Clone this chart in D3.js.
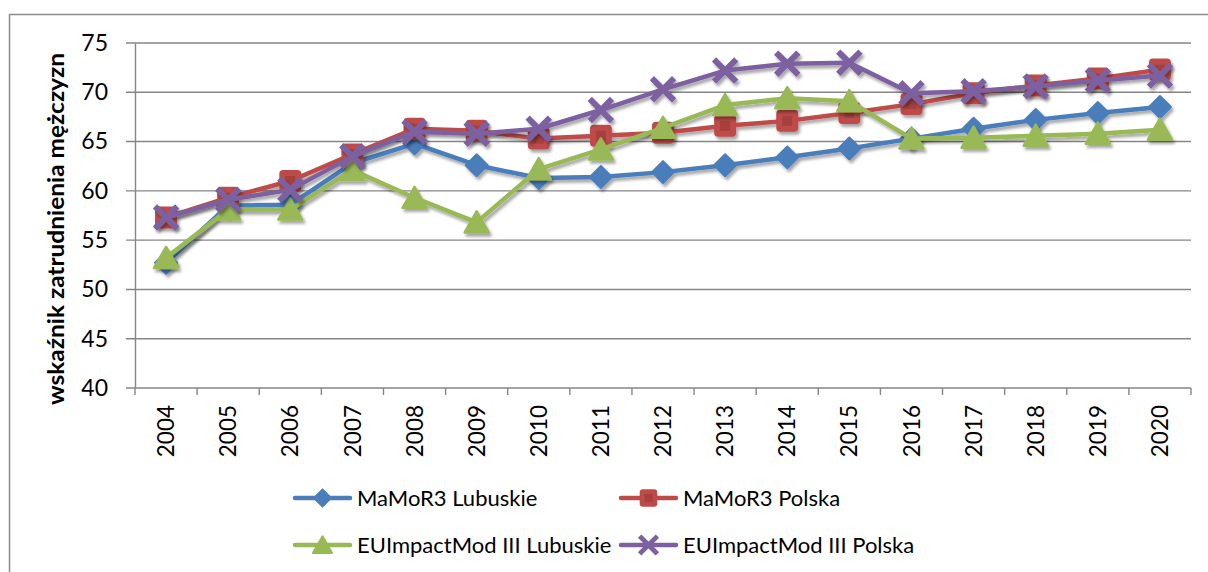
<!DOCTYPE html>
<html>
<head>
<meta charset="utf-8">
<script src="https://cdn.jsdelivr.net/npm/d3@7"></script>
<style>
  body { margin: 0; background: #fff; }
  text { font-family: Lato, "Open Sans", sans-serif; fill: #000; }
</style>
</head>
<body>
<div id="container"></div>
<script>
const WIDTH = 1208;
const HEIGHT = 572;

const years = ["2004", "2005", "2006", "2007", "2008", "2009", "2010", "2011", "2012",
  "2013", "2014", "2015", "2016", "2017", "2018", "2019", "2020"];
const yTicks = [40, 45, 50, 55, 60, 65, 70, 75];

const mamorLubuskie = [52.7, 58.5, 58.6, 62.8, 64.8, 62.6, 61.3, 61.4, 61.9, 62.6, 63.4, 64.3, 65.3, 66.3, 67.2, 67.9, 68.5];
const mamorPolska = [57.3, 59.3, 61.0, 63.7, 66.3, 66.1, 65.3, 65.6, 65.9, 66.6, 67.1, 67.9, 68.8, 69.9, 70.7, 71.4, 72.3];
const euLubuskie = [53.2, 58.1, 58.1, 62.1, 59.3, 56.8, 62.2, 64.2, 66.4, 68.7, 69.4, 69.1, 65.3, 65.4, 65.6, 65.8, 66.2];
const euPolska = [57.3, 59.1, 60.1, 63.5, 66.0, 65.8, 66.3, 68.2, 70.3, 72.2, 72.9, 73.0, 69.9, 70.1, 70.6, 71.2, 71.7];

const seriesNames = ["MaMoR3 Lubuskie", "MaMoR3 Polska", "EUImpactMod III Lubuskie", "EUImpactMod III Polska"];
const seriesValues = [mamorLubuskie, mamorPolska, euLubuskie, euPolska];
const seriesColors = ["#4a7ebb", "#be4b48", "#98b954", "#7d60a0"];
const seriesMarkers = ["diamond", "square", "triangle", "x"];

const svg = d3
  .select("div#container")
  .append("svg")
  .attr("width", WIDTH)
  .attr("height", HEIGHT);

const defs = svg.append("defs");
defs
  .append("filter")
  .attr("id", "shadow")
  .attr("x", "-10%").attr("y", "-10%")
  .attr("width", "120%").attr("height", "130%")
  .append("feDropShadow")
  .attr("dx", 2)
  .attr("dy", 3)
  .attr("stdDeviation", 1.6)
  .attr("flood-color", "#000")
  .attr("flood-opacity", 0.35);

// chart frame
svg
  .append("rect")
  .attr("x", 9.5)
  .attr("y", 14.5)
  .attr("width", 1220)
  .attr("height", 600)
  .attr("fill", "none")
  .attr("stroke", "#8c8c8c")
  .attr("stroke-width", 1.5);

const xScale = d3.scaleBand().domain(years).range([135, 1191]).padding(0);
const yScale = d3.scaleLinear().domain([40, 75]).range([388, 43]);
const px = (i) => xScale(years[i]) + xScale.bandwidth() / 2;

// gridlines
svg
  .append("g")
  .selectAll("line")
  .data(yTicks)
  .enter()
  .append("line")
  .attr("x1", 126)
  .attr("x2", 1191)
  .attr("y1", (d) => yScale(d))
  .attr("y2", (d) => yScale(d))
  .attr("stroke", "#868686")
  .attr("stroke-width", 1.4);

// y axis
const yAxis = d3.axisLeft(yScale).tickValues(yTicks).tickSize(0).tickPadding(0);
const gy = svg.append("g").attr("transform", "translate(135,0)").call(yAxis);
gy.select(".domain").attr("stroke", "#868686").attr("stroke-width", 1.4);
gy.selectAll(".tick text")
  .attr("x", -27)
  .attr("font-size", 23)
  .style("font-family", "Lato");

// x axis
const xAxis = d3.axisBottom(xScale).tickSize(0).tickPadding(0);
const gx = svg.append("g").attr("transform", "translate(0,388)").call(xAxis);
gx.select(".domain").remove();
gx.selectAll(".tick text")
  .attr("transform", "rotate(-90)")
  .attr("x", -17)
  .attr("y", 0)
  .attr("dy", "0.36em")
  .attr("text-anchor", "end")
  .attr("font-size", 22.5)
  .style("font-family", "Lato");

svg
  .append("g")
  .selectAll("line")
  .data(d3.range(years.length + 1))
  .enter()
  .append("line")
  .attr("x1", (i) => 135 + i * xScale.step())
  .attr("x2", (i) => 135 + i * xScale.step())
  .attr("y1", 388)
  .attr("y2", 395)
  .attr("stroke", "#868686")
  .attr("stroke-width", 1.4);

// y axis title
svg
  .append("text")
  .attr("transform", "translate(64,229) rotate(-90)")
  .attr("text-anchor", "middle")
  .attr("font-size", 23)
  .attr("font-weight", "bold")
  .attr("textLength", 352)
  .attr("lengthAdjust", "spacingAndGlyphs")
  .text("wskaźnik zatrudnienia mężczyzn");

function drawMarker(g, type, color) {
  if (type === "diamond") {
    g.append("path")
      .attr("d", "M0,-11L11,0L0,11L-11,0Z")
      .attr("fill", color)
      .attr("stroke", color)
      .attr("stroke-width", 2)
      .attr("stroke-linejoin", "round");
  } else if (type === "square") {
    g.append("rect")
      .attr("x", -10).attr("y", -10)
      .attr("width", 20).attr("height", 20)
      .attr("rx", 3)
      .attr("fill", color)
      .attr("stroke", color)
      .attr("stroke-width", 2);
    g.append("rect")
      .attr("x", -5).attr("y", -5)
      .attr("width", 10).attr("height", 10)
      .attr("fill", d3.color(color).darker(0.4));
  } else if (type === "triangle") {
    g.append("path")
      .attr("d", "M0,-11L12,10L-12,10Z")
      .attr("fill", color)
      .attr("stroke", color)
      .attr("stroke-width", 2.5)
      .attr("stroke-linejoin", "round");
  } else {
    g.append("path")
      .attr("d", "M-9,-9L9,9M-9,9L9,-9")
      .attr("stroke", color)
      .attr("stroke-width", 6)
      .attr("stroke-linecap", "square");
  }
}

const line = d3
  .line()
  .x((d, i) => px(i))
  .y((d) => yScale(d));

seriesValues.forEach((vals, s) => {
  const g = svg.append("g").attr("filter", "url(#shadow)");
  g.append("path")
    .attr("d", line(vals))
    .attr("fill", "none")
    .attr("stroke", seriesColors[s])
    .attr("stroke-width", 4.5)
    .attr("stroke-linejoin", "round");
  g.selectAll("g.marker")
    .data(vals)
    .enter()
    .append("g")
    .attr("class", "marker")
    .attr("transform", (d, i) => `translate(${px(i)},${yScale(d)})`)
    .each(function () {
      drawMarker(d3.select(this), seriesMarkers[s], seriesColors[s]);
    });
});

// legend
const legendPos = [
  [295, 498],
  [621, 498],
  [295, 545],
  [621, 545],
];
seriesNames.forEach((name, s) => {
  const [lx, ly] = legendPos[s];
  const g = svg.append("g").attr("transform", `translate(${lx},${ly})`);
  g.append("line")
    .attr("x1", 0)
    .attr("x2", 55)
    .attr("stroke", seriesColors[s])
    .attr("stroke-width", 4.5)
    .attr("stroke-linecap", "round");
  const m = g.append("g").attr("transform", "translate(27.5,0) scale(0.8)");
  drawMarker(m, seriesMarkers[s], seriesColors[s]);
  g.append("text")
    .attr("x", 62)
    .attr("dy", "0.36em")
    .attr("font-size", 22)
    .text(name);
});
</script>
</body>
</html>
